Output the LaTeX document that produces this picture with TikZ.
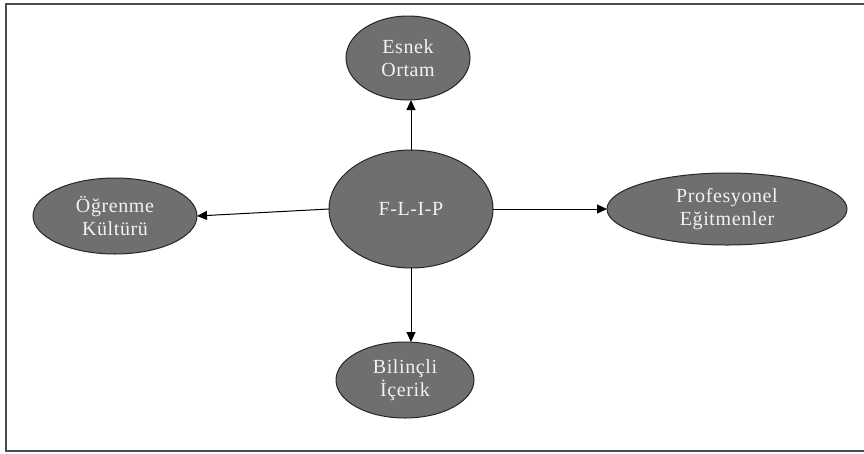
\documentclass[tikz,border=0pt]{standalone}
\usepackage{fontspec}
\setmainfont{Liberation Serif}[LetterSpace=3]
\usetikzlibrary{shapes.geometric,arrows.meta}
\definecolor{bubble}{HTML}{6E6F71}
\definecolor{bubbletext}{HTML}{F2F2F2}
\begin{document}
\begin{tikzpicture}[x=1pt,y=-1pt,
  bubble/.style={ellipse,draw=black!85,line width=1pt,fill=bubble,
    text=bubbletext,font=\fontsize{20}{23}\selectfont,align=center,
    inner sep=0pt,outer sep=0pt},
  link/.style={-{Triangle[length=10pt,width=9pt]},line width=1pt,black}]
\useasboundingbox (0,0) rectangle (864,453);
% outer frame
\draw[line width=2pt,black!70] (5.5,3.5) rectangle (880,451);
% nodes
\node[bubble,minimum width=164pt,minimum height=118pt] (flip) at (411,209) {F-L-I-P};
\node[bubble,minimum width=124pt,minimum height=84pt] (esnek) at (408,58) {Esnek\\Ortam};
\node[bubble,minimum width=164pt,minimum height=76pt] (ogrenme) at (115,216) {Öğrenme\\Kültürü};
\node[bubble,minimum width=240pt,minimum height=72pt] (prof) at (727,209) {Profesyonel\\Eğitmenler};
\node[bubble,minimum width=138pt,minimum height=76pt] (bilincli) at (405,380) {Bilinçli\\İçerik};
% connectors
\draw[link] (flip.north) -- (flip.north |- esnek.south);
\draw[link] (flip.west) -- (ogrenme.east);
\draw[link] (flip.east) -- (prof.west);
\draw[link] (flip.south) -- (flip.south |- bilincli.north);
\end{tikzpicture}
\end{document}
